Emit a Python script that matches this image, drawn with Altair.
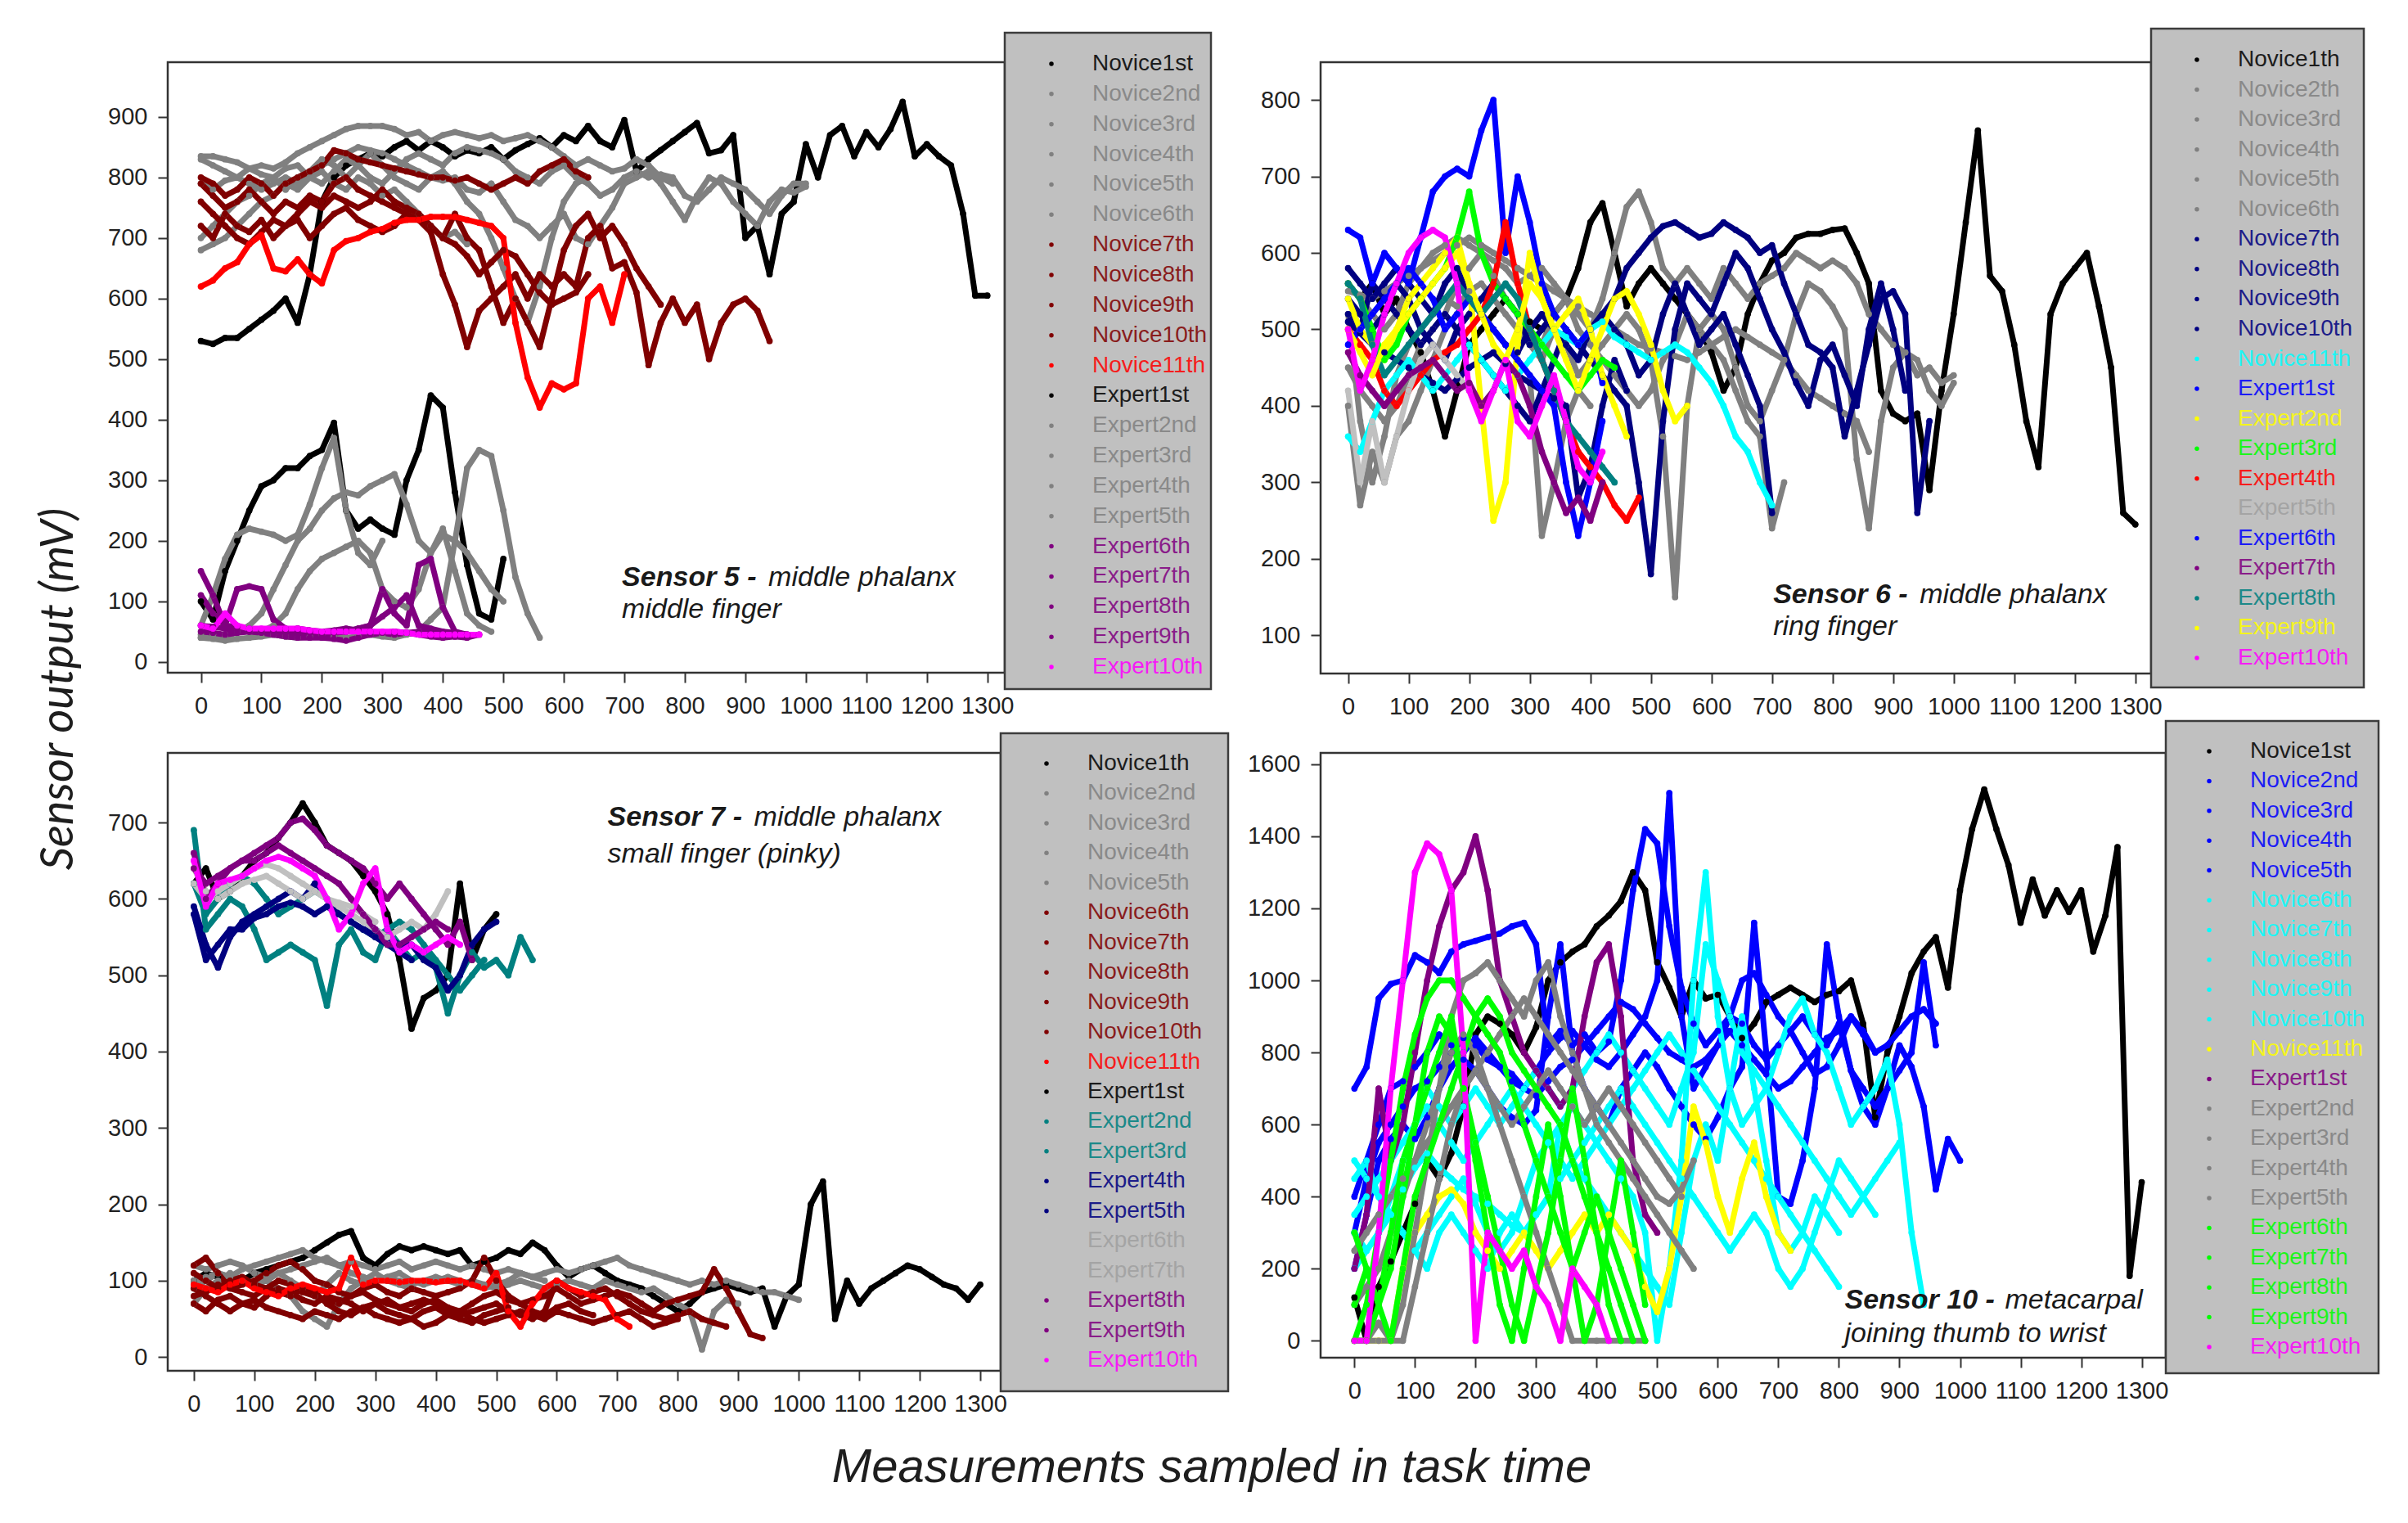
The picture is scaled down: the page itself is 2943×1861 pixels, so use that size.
import altair as alt
import pandas as pd

STEP = 20
FONT = "Liberation Sans"
TITLE_FONT = "Lato"

BLACK = "#000000"; GRAY = "#808080"; DARKRED = "#800000"; RED = "#ff0000"
PURPLE = "#800080"; MAGENTA = "#ff00ff"; NAVY = "#000080"; CYAN = "#00ffff"
BLUE = "#0000ff"; YELLOW = "#ffff00"; GREEN = "#00ff00"; TEAL = "#008080"; SILVER = "#c0c0c0"

XTICKS = list(range(0, 1301, 100))

# ---------------- Sensor 5 (values every 20 samples, starting at 0) ----------------
S5_N1 = [530,525,535,535,550,565,580,600,560,640,760,800,820,830,840,835,850,860,845,860,850,835,845,840,850,830,845,855,865,850,870,860,885,860,850,895,810,830,845,860,875,890,840,845,870,700,720,640,740,760,855,800,870,885,835,875,850,880,925,835,855,835,820,740,605,605]
S5_N2 = [835,835,830,825,815,820,815,825,840,850,860,870,880,885,885,885,880,870,875,860,870,875,870,865,870,860,865,870,860,850,835,820,830,820,810,815,830,820,800,790]
S5_N3 = [790,780,795,800,790,780,790,800,790,810,820,830,840,850,845,840,830,820,810,800,795,800,780,775,790,760,730,720,700,720,740,700,690,720,750,790,800,810,790,760,730,770,800,790,760,740,720,760,780,775,785]
S5_N4 = [700,720,740,760,770,790,800,780,800,810,830,820,800,820,840,820,800,790,780,800,810,790,760,740,700,650,600,560,620,700,760,790,800]
S5_N5 = [830,820,810,800,815,805,800,815,820,800,790,810,830,820,800,790,810,830,840,830,820,840,850,845,840,830,810,800,790,810,820,800,790,770,780,800,810,800,805,800,770,760,780,800,790,780,760,740,770,790,790]
S5_N6 = [680,690,700,720,740,760,770,790,780,800,810,790,780,800,790,770,780,760,740,720,700,710,690]
S5_N7 = [800,790,770,780,800,790,770,790,800,810,820,845,840,830,825,820,815,810,805,800,800,795,800,790,780,790,800,790,810,820,830,810,800]
S5_N8 = [720,700,740,720,710,730,700,720,740,760,750,770,760,750,760,780,760,750,740,720,700,740,700,680,620,560,600,560,520,600,680,720,740,700,720,690,650,620,590]
S5_N9 = [760,740,720,700,690,710,730,720,730,700,720,740,750,730,720,710,720,740,730,710,640,590,520,580,600,620,640,600,640,620,640,620,700,720,650,660,610,490,560,600,560,590,500,560,590,600,580,530]
S5_N10 = [790,770,750,760,780,760,740,760,750,770,760,790,800,780,770,760,750,740,730,720,700,690,670,640,660,680,670,640,610,590,600,610,640]
S5_N11 = [620,630,650,660,690,705,650,645,665,640,625,680,695,700,710,715,725,730,730,735,735,735,730,725,720,700,560,470,420,460,450,460,600,620,560,640]
S5_E1 = [100,70,150,200,250,290,300,320,320,340,350,395,250,220,235,220,210,300,350,440,420,280,160,80,70,170]
S5_E2 = [60,110,170,210,220,215,210,200,210,260,320,370,250,180,160,200]
S5_E3 = [40,45,40,50,60,80,120,160,200,220,250,270,280,275,290,300,310,260,200,180,220,150,80,60,50]
S5_E4 = [45,45,45,50,50,50,60,80,120,150,170,180,190,200,180,120,100,90,120,180,210,200,180,150,120,100]
S5_E5 = [40,38,35,38,40,42,45,42,40,42,45,42,40,42,45,42,40,45,50,70,90,200,320,350,340,250,140,80,40]
S5_E6 = [150,110,60,120,125,120,70,55,50,50,45,48,50,55,60,120,80,60,160,170,90,50,45]
S5_E7 = [110,80,60,58,55,52,50,48,45,48,50,52,55,52,50,48,45,48,50,48,45,42,40,45]
S5_E8 = [50,48,45,48,50,48,45,42,40,40,40,38,35,40,45,48,50,48,45,42,40,42,45]
S5_E9 = [60,58,55,52,50,50,50,52,55,52,50,50,50,55,60,75,90,110,60,55,50,48,45]
S5_E10 = [60,55,80,60,55,55,55,55,55,52,50,50,50,50,50,50,50,48,45,45,45,45,45,45]

# ---------------- Sensor 6 ----------------
S6_N1 = [560,540,560,520,540,500,470,420,360,420,480,500,520,540,520,510,500,520,540,580,640,665,600,530,560,580,560,540,520,500,470,420,450,520,560,590,600,620,625,625,630,632,600,560,420,390,380,390,290,420,520,640,760,570,550,480,380,320,520,560,580,600,530,450,260,245]
S6_N2 = [560,540,520,500,520,560,580,600,610,620,610,600,590,580,560,570,580,560,540,520,500,540,600,660,680,640,580,560,580,560,540,580,560,540,560,570,580,600,590,580,590,580,560,520,500,480,470,440,450,430,440]
S6_N3 = [520,380,300,360,440,480,500,520,540,530,550,560,540,520,500,480,460,500,480,440,460,480,500,520,500,460,360,150,400,500,520,500,450,400,380,420,460,520,560,550,530,500,330,240,380,450,470,460,420,400,430]
S6_N4 = [400,270,340,300,360,380,420,460,500,520,540,520,500,480,460,440,230,300,380,420,400]
S6_N5 = [450,420,400,380,400,440,480,500,520,560,580,600,570,540,520,500,480,520,540,500,480,460,440,420,400,420,460,480,520,500,480,460,420,380,360,240,300]
S6_N6 = [550,545,540,550,560,570,580,590,600,610,620,610,600,590,580,570,560,550,540,530,520,510,500,490,480,475,470,465,460,470,480,490,500,490,480,470,460,440,420,410,400,390,380,340]
S6_N7 = [580,560,540,560,580,560,540,520,560,580,540,520,500,480,470,500,520,500,480,460,500,520,540,580,600,620,635,640,630,620,625,640,630,620,600,610,560,520,480,470,450,360,420,480,540,550,520,260,380]
S6_N8 = [520,500,560,540,520,500,480,500,520,500,480,460,440,420,400,380,420,460,500,480,460,440,420,400,300,180,380,500,560,540,520,560,600,580,540,500,470,430,400,460,480,440,400,500,560,500,420]
S6_N9 = [540,520,500,520,560,540,500,480,460,500,520,540,560,540,520,480,500,520,500,480,500,520,500,480,440,460,520,560,520,480,500,520,480,440,400,260]
S6_N10 = [510,495,480,470,460,450,440,430,420,435,450,460,470,455,440,430,420,410,400,280,320,400,460,420]
S6_N11 = [360,340,380,420,440,460,440,420,440,460,480,460,440,420,440,460,480,500,490,480,500,510,490,480,470,460,470,480,470,450,430,400,360,340,300,270]
S6_E1 = [630,620,560,600,580,560,620,680,700,710,700,760,800,600,700,640,560,520,500,480,500,430]
S6_E2 = [540,500,480,460,500,540,560,580,600,620,560,400,250,300,480,600,540,500,520,540,500,440,400,360]
S6_E3 = [560,540,500,460,480,520,540,560,580,620,680,600,560,540,520,500,480,460,440,420,440,460,450]
S6_E4 = [500,480,460,420,400,420,440,460,470,480,500,520,560,640,560,500,460,420,380,340,320,300,270,250,280]
S6_E5 = [420,300,380,300,360,420,460,480,460,440,420]
S6_E6 = [480,500,520,540,560,580,560,540,500,520,540,520,500,480,460,440,420,400,300,230,300,380]
S6_E7 = [470,440,420,400,420,440,450,460,440,420,430,400,420,460,440,400,340,300,260,280,250,300]
S6_E8 = [560,540,480,440,460,480,500,520,540,560,540,520,540,560,540,500,460,420,380,360,340,320,300]
S6_E9 = [500,470,440,480,500,520,540,560,580,600,560,520,480,460,500,560,540,500,460,420,460,500,540,550,520,480,420,380,400]
S6_E10 = [500,420,460,520,560,600,620,630,620,560,420,380,420,460,380,360,400,440,380,320,300,340]

# ---------------- Sensor 7 ----------------
S7_N1 = [100,110,105,95,100,110,115,120,125,130,140,150,160,165,130,120,135,145,140,145,140,135,140,120,125,130,140,135,150,140,120,105,115,120,110,100,95,90,80,70,60,70,85,90,95,90,85,90,40,80,95,200,230,50,100,70,90,100,110,120,115,105,95,90,75,95]
S7_N2 = [90,100,110,105,115,120,125,130,135,140,130,125,120,125,120,115,120,125,115,120,125,120,115,120,115,110,115,110,105,110,115,110,115,120,125,130,120,115,110,105,100,95,100,95,100,95,90,85,85,80,75]
S7_N3 = [70,90,100,110,100,95,100,110,100,90,80,95,110,100,95,100,105,100,95,100,105,100,95,100,95,90,95,100,95,90,95,100,95,90,100,95,90,85,90,80,70,60,10,60,75,70]
S7_N4 = [100,105,110,105,100,95,100,90,80,60,50,40,70,90,100,110,100,95,90]
S7_N5 = [120,115,120,125,120,110,105,110,115,120,125,130,120,110,105,100,105,110,100,95,100,105,100,95,90,95,100,110,105,100]
S7_N6 = [120,130,110,90,95,100,110,120,125,115,100,95,85,80,90,95,85,80,90,85,80,85,90,100,130,100,80,70,75,80,90,80,70,75,80,85,80,70,60,70,75,80,85,115,90,60,30,25]
S7_N7 = [90,80,70,60,70,75,65,60,55,50,60,55,50,60,65,55,50,45,50,40,45,55,60,50,45,50,55,60,55,50,60,55,50,45,50,55,60,50,40,45,50]
S7_N8 = [70,60,75,80,70,65,80,90,85,75,70,80,75,70,60,70,75,65,60,70,75,65,60,70,80,85,75,70,60,55,65,70,60,55]
S7_N9 = [110,100,90,100,105,95,90,85,80,90,85,70,60,55,65,70,60,55,50,60,65,55,50,45,55,60,65]
S7_N10 = [80,85,95,90,85,80,90,100,95,85,80,75,70,80,85,75,70,65,70,75,70,60,55,60,65,70,60,55,50,60,100,90,80,85,90,80,70,60,55,50,55,60,50,45,40]
S7_N11 = [95,90,85,95,100,90,85,80,90,95,90,85,90,130,95,100,100,98,100,100,98,100,100,95,90,110,60,40,70,90,100,90,85,80,75,50,40]
S7_E1 = [620,640,600,610,630,650,660,680,700,725,700,670,660,650,630,610,580,520,430,470,480,500,620,520,560,580]
S7_E2 = [690,560,580,600,590,560,520,530,540,530,520,460,540,560,530,520,560,540,520,530,510,450,500,530,510,520,500,550,520]
S7_E3 = [620,580,600,620,630,620,600,580,590,600,610,600,580,570,560,550,560,570,560,540,520,500,480,500,520]
S7_E4 = [590,540,510,550,570,580,590,600,610,600,620,600,580,570,560,560,550,540,540,520,510,480,500,540,560,570]
S7_E5 = [580,520,540,560,560,575,580,590,595,590,580,590,580,570,560,550,540,530,520]
S7_E6 = [640,610,600,610,620,625,630,620,610,600,610,600,590,580,570,560,550,560,570,560,580,610]
S7_E7 = [620,600,610,620,630,640,645,640,630,620,610,600,595,590,580,570]
S7_E8 = [660,600,620,640,650,660,670,680,700,705,690,670,660,650,640,620,600,620,600,580,560,540,570,520]
S7_E9 = [640,620,630,640,650,650,660,670,660,650,640,630,620,600,580,560,540,540,550,560,570,560]
S7_E10 = [650,590,620,625,630,640,650,655,650,640,630,600,560,580,620,640,560,530,540,530,540,550,540]

# ---------------- Sensor 10 ----------------
S10_N1 = [120,0,150,220,300,380,500,450,520,650,850,900,880,850,800,870,1000,1050,1080,1100,1150,1180,1220,1300,1250,1050,980,900,1000,950,960,900,840,880,940,960,980,960,940,960,970,1000,880,620,800,900,1020,1080,1120,980,1250,1420,1530,1420,1320,1160,1280,1180,1250,1190,1250,1080,1180,1370,180,440]
S10_N2 = [700,760,950,990,1000,1070,1050,1020,1080,1100,1110,1120,1130,1150,1160,1100,820,860,820,850,800,830,1000,1250,1420,1380,1150,980,880,820,860,900,880,820,780,820,860,900,850,820,880,750,650,600,700,820,760,650,420,560,500]
S10_N3 = [200,350,500,560,600,560,620,700,760,800,840,800,760,720,700,750,800,840,860,820,780,760,800,850,900,1000,1520,900,700,760,820,900,1000,1020,960,900,860,800,740,760,820,900,860,800]
S10_N4 = [400,500,600,700,720,760,800,850,820,780,750,700,650,620,600,640,900,1100,800,700,650,600,700,750,800,760,700,650,600,560,620,700,760,1160,800,400,380,500,700,1100,900,750,700,650,700,750,800,1050,820]
S10_N5 = [300,450,550,600,650,700,720,760,800,840,820,780,760,740,700,680,720,760,780,820,860,900,940,920,880,840,800,780,760,780,820,860,820,780,740,700,720,760,800,840,860,900,850,800,820,860,900,920,880]
S10_N6 = [450,500,400,350,420,480,520,480,450,420,400,380,350,320,300,350,400,600,650,600,550,500,450,400,300,0,200,500,1000,1300,900,700,600,650,700,800,900,950,850,800,700,600,650,700,780,600,300,100]
S10_N7 = [300,250,300,400,500,600,700,650,600,650,700,650,600,650,700,750,700,650,700,750,800,850,800,750,700,650,600,700,800,1100,1000,900,800,750,700,650,600,550,500,450,400,350,400,450,500,550]
S10_N8 = [500,450,400,350,300,250,300,350,400,450,380,300,250,300,400,500,550,600,500,450,400,350,300,250,200,150,100,300,500,600,500,700,900,700,500,300,250,300,400,350,300]
S10_N9 = [200,250,300,350,300,250,200,300,350,300,250,200,300,350,300,350,400,450,500,550,600,650,700,650,600,550,500,450,400,350,300,250,300,350,300,200,150,200,300,400,500,450,400,350]
S10_N10 = [350,400,450,500,550,600,650,600,550,500,550,600,650,700,650,600,550,500,450,500,550,600,650,700,750,800,850,800,750,700,650,600,550,500,450,400,350,300,250,200,150]
S10_N11 = [0,0,0,0,200,300,350,400,420,380,300,250,200,250,300,250,200,250,300,350,300,350,300,250,150,80,200,400,650,550,400,300,450,550,400,300,250]
S10_E1 = [200,350,700,500,600,800,1000,1150,1250,1300,1400,1250,1000,900,800,750,700,650,700,900,1050,1100,900,500,350,300]
S10_E2 = [0,0,0,0,100,300,500,700,900,1000,1020,1050,1000,950,900,1000,1050,900,800,700,600,550,500,450,400,350,300,250,200]
S10_E3 = [100,150,200,300,400,500,600,700,800,850,800,700,650,600,650,700,750,700,650,600,650,700,650,600,550,500,450,400]
S10_E4 = [0,0,50,0,0,150,300,450,600,700,750,700,600,500,400,300,200,100,0,0,0,0,0,0,0]
S10_E5 = [250,300,350,400,450,500,550,600,650,700,750,800,850,900,950,900,850,800,750,700,650,600,550,500,450,400,380,420,500]
S10_E6 = [0,100,300,500,700,850,950,1000,1000,950,900,850,800,700,600,500,400,300,200,300,400,300,200,100,0]
S10_E7 = [100,200,100,300,500,600,700,800,900,700,500,300,100,0,200,400,600,400,200,0,100,300,500,300,100]
S10_E8 = [0,0,100,200,400,600,800,900,850,700,550,400,250,100,0,150,300,500,700,500,300,100,0]
S10_E9 = [300,200,100,0,200,400,500,600,700,800,900,950,900,800,750,700,650,600,500,400,300,200,100,0]
S10_E10 = [0,0,300,700,1000,1300,1380,1350,1250,800,0,300,250,200,250,150,100,0,200,150,100,0]

S5 = [("Novice1st", BLACK, S5_N1), ("Novice2nd", GRAY, S5_N2), ("Novice3rd", GRAY, S5_N3),
      ("Novice4th", GRAY, S5_N4), ("Novice5th", GRAY, S5_N5), ("Novice6th", GRAY, S5_N6),
      ("Novice7th", DARKRED, S5_N7), ("Novice8th", DARKRED, S5_N8), ("Novice9th", DARKRED, S5_N9),
      ("Novice10th", DARKRED, S5_N10), ("Novice11th", RED, S5_N11), ("Expert1st", BLACK, S5_E1),
      ("Expert2nd", GRAY, S5_E2), ("Expert3rd", GRAY, S5_E3), ("Expert4th", GRAY, S5_E4),
      ("Expert5th", GRAY, S5_E5), ("Expert6th", PURPLE, S5_E6), ("Expert7th", PURPLE, S5_E7),
      ("Expert8th", PURPLE, S5_E8), ("Expert9th", PURPLE, S5_E9), ("Expert10th", MAGENTA, S5_E10)]
S6 = [("Novice1th", BLACK, S6_N1), ("Novice2th", GRAY, S6_N2), ("Novice3rd", GRAY, S6_N3),
      ("Novice4th", GRAY, S6_N4), ("Novice5th", GRAY, S6_N5), ("Novice6th", GRAY, S6_N6),
      ("Novice7th", NAVY, S6_N7), ("Novice8th", NAVY, S6_N8), ("Novice9th", NAVY, S6_N9),
      ("Novice10th", NAVY, S6_N10), ("Novice11th", CYAN, S6_N11), ("Expert1st", BLUE, S6_E1),
      ("Expert2nd", YELLOW, S6_E2), ("Expert3rd", GREEN, S6_E3), ("Expert4th", RED, S6_E4),
      ("Expert5th", SILVER, S6_E5), ("Expert6th", BLUE, S6_E6), ("Expert7th", PURPLE, S6_E7),
      ("Expert8th", TEAL, S6_E8), ("Expert9th", YELLOW, S6_E9), ("Expert10th", MAGENTA, S6_E10)]
S7 = [("Novice1th", BLACK, S7_N1), ("Novice2nd", GRAY, S7_N2), ("Novice3rd", GRAY, S7_N3),
      ("Novice4th", GRAY, S7_N4), ("Novice5th", GRAY, S7_N5), ("Novice6th", DARKRED, S7_N6),
      ("Novice7th", DARKRED, S7_N7), ("Novice8th", DARKRED, S7_N8), ("Novice9th", DARKRED, S7_N9),
      ("Novice10th", DARKRED, S7_N10), ("Novice11th", RED, S7_N11), ("Expert1st", BLACK, S7_E1),
      ("Expert2nd", TEAL, S7_E2), ("Expert3rd", TEAL, S7_E3), ("Expert4th", NAVY, S7_E4),
      ("Expert5th", NAVY, S7_E5), ("Expert6th", SILVER, S7_E6), ("Expert7th", SILVER, S7_E7),
      ("Expert8th", PURPLE, S7_E8), ("Expert9th", PURPLE, S7_E9), ("Expert10th", MAGENTA, S7_E10)]
S10 = [("Novice1st", BLACK, S10_N1), ("Novice2nd", BLUE, S10_N2), ("Novice3rd", BLUE, S10_N3),
       ("Novice4th", BLUE, S10_N4), ("Novice5th", BLUE, S10_N5), ("Novice6th", CYAN, S10_N6),
       ("Novice7th", CYAN, S10_N7), ("Novice8th", CYAN, S10_N8), ("Novice9th", CYAN, S10_N9),
       ("Novice10th", CYAN, S10_N10), ("Novice11th", YELLOW, S10_N11), ("Expert1st", PURPLE, S10_E1),
       ("Expert2nd", GRAY, S10_E2), ("Expert3rd", GRAY, S10_E3), ("Expert4th", GRAY, S10_E4),
       ("Expert5th", GRAY, S10_E5), ("Expert6th", GREEN, S10_E6), ("Expert7th", GREEN, S10_E7),
       ("Expert8th", GREEN, S10_E8), ("Expert9th", GREEN, S10_E9), ("Expert10th", MAGENTA, S10_E10)]


def label_color(c):
    return "#a0a0a0" if c == SILVER else c


def make_panel(series, width, height, xdom, ydom, yticks, note, legend, extras=()):
    rows = []
    for k, (name, color, vals) in enumerate(series):
        for i, v in enumerate(vals):
            rows.append({"series": "%02d %s" % (k, name), "x": i * STEP, "y": v, "c": color})
    df = pd.DataFrame(rows)
    xs = alt.Scale(domain=xdom, nice=False, zero=False)
    ys = alt.Scale(domain=ydom, nice=False, zero=False)
    X = alt.X("x:Q", scale=xs, axis=alt.Axis(values=XTICKS, title=None, labelOverlap=False, format="d"))
    Y = alt.Y("y:Q", scale=ys, axis=alt.Axis(values=yticks, title=None, labelOverlap=False, format="d"))
    base = alt.Chart(df).encode(x=X, y=Y, detail="series:N", color=alt.Color("c:N", scale=None))
    lines = base.mark_line(strokeWidth=7, strokeJoin="round", strokeCap="round")
    pts = base.mark_circle(size=60, opacity=1)

    nx, ny1, ny2, bold, ital, line2, dx = note
    n1 = pd.DataFrame({"x": [nx], "y": [ny1], "t": [bold]})
    n2 = pd.DataFrame({"x": [nx], "y": [ny1], "t": [ital]})
    n3 = pd.DataFrame({"x": [nx], "y": [ny2], "t": [line2]})
    tstyle = dict(font=FONT, fontSize=34, fontStyle="italic", align="left",
                  baseline="alphabetic", color="#1a1a1a")
    nb = alt.Chart(n1).mark_text(fontWeight="bold", **tstyle).encode(x=X, y=Y, text="t:N")
    ni = alt.Chart(n2).mark_text(dx=dx, **tstyle).encode(x=X, y=Y, text="t:N")
    nl = alt.Chart(n3).mark_text(**tstyle).encode(x=X, y=Y, text="t:N")
    data_layer = alt.layer(lines, pts, nb, ni, nl)

    L, R, T, B, first, last, dotx, textx = legend
    n = len(series)
    ldf = pd.DataFrame({"row": list(range(n)), "label": [s[0] for s in series],
                        "dot": [s[1] for s in series], "tc": [label_color(s[1]) for s in series]})
    box = alt.Chart(pd.DataFrame({"k": [0]})).mark_rect(
        fill="#c0c0c0", stroke="#3c3c3c", strokeWidth=2.5
    ).encode(x=alt.value(L), x2=alt.value(R), y=alt.value(T), y2=alt.value(B))
    ly = alt.Y("row:Q", scale=alt.Scale(domain=[0, n - 1], range=[first, last]), axis=None)
    dots = alt.Chart(ldf).mark_circle(size=30, opacity=1).encode(
        x=alt.value(dotx), y=ly, color=alt.Color("dot:N", scale=None))
    labs = alt.Chart(ldf).mark_text(font=FONT, fontSize=28, align="left", baseline="middle",
                                    opacity=0.85).encode(
        x=alt.value(textx), y=ly, text="label:N", color=alt.Color("tc:N", scale=None))
    legend_layer = alt.layer(box, dots, labs)

    return alt.layer(data_layer, legend_layer, *extras).resolve_scale(
        x="independent", y="independent").properties(width=width, height=height)


ytitle = alt.Chart(pd.DataFrame({"t": ["Sensor output (mV)"]})).mark_text(
    font=TITLE_FONT, fontSize=56, fontStyle="italic", angle=270, align="center",
    baseline="alphabetic", color="#1e1e1e").encode(x=alt.value(-116), y=alt.value(766), text="t:N")
xtitle = alt.Chart(pd.DataFrame({"t": ["Measurements sampled in task time"]})).mark_text(
    font=FONT, fontSize=58, fontStyle="italic", align="center",
    baseline="alphabetic", color="#1e1e1e").encode(x=alt.value(1276), y=alt.value(891), text="t:N")

p1 = make_panel(S5, 1023, 746, [-54.8, 1328.8], [-17.9, 990.4], list(range(0, 901, 100)),
                (696, 125.6, 72.6, "Sensor 5 -", "middle phalanx", "middle finger", 179),
                (1023, 1275, -36, 766, 2, 739, 1080, 1130), extras=(ytitle,))
p2 = make_panel(S6, 1015, 747, [-45.4, 1326.0], [50.1, 849.3], list(range(100, 801, 100)),
                (702, 142.5, 100.5, "Sensor 6 -", "middle phalanx", "ring finger", 179),
                (1015, 1275, -41, 764, -3, 728, 1071, 1121))
p3 = make_panel(S7, 1018, 755, [-43.1, 1333.8], [-17.9, 791.1], list(range(0, 701, 100)),
                (684, 695.5, 647.8, "Sensor 7 -", "middle phalanx", "small finger (pinky)", 179),
                (1018, 1296, -24, 780, 13, 742, 1074, 1124), extras=(xtitle,))
p4 = make_panel(S10, 1033, 739, [-55.9, 1339.8], [-47.0, 1631.4], list(range(0, 1601, 200)),
                (809.5, 89, -3.6, "Sensor 10 -", "metacarpal", "joining thumb to wrist", 196),
                (1033, 1293, -39, 758, -2, 726, 1086, 1136))

chart = alt.concat(
    p1, p2, p3, p4, columns=2, spacing={"row": 97, "column": 386}, bounds="flush", align="each"
).resolve_scale(x="independent", y="independent").properties(
    padding={"left": 34, "top": 24, "right": 8, "bottom": 8}, background="white"
).configure_view(stroke="#333333", strokeWidth=2.5).configure_axis(
    domain=False, grid=False, ticks=True, tickSize=12, tickWidth=2, tickColor="#333333",
    labelFont=FONT, labelFontSize=29, labelColor="#222222", labelPadding=14
).configure_axisY(labelPadding=13)

chart.save("out.html", embed_options={"renderer": "svg", "actions": False})
